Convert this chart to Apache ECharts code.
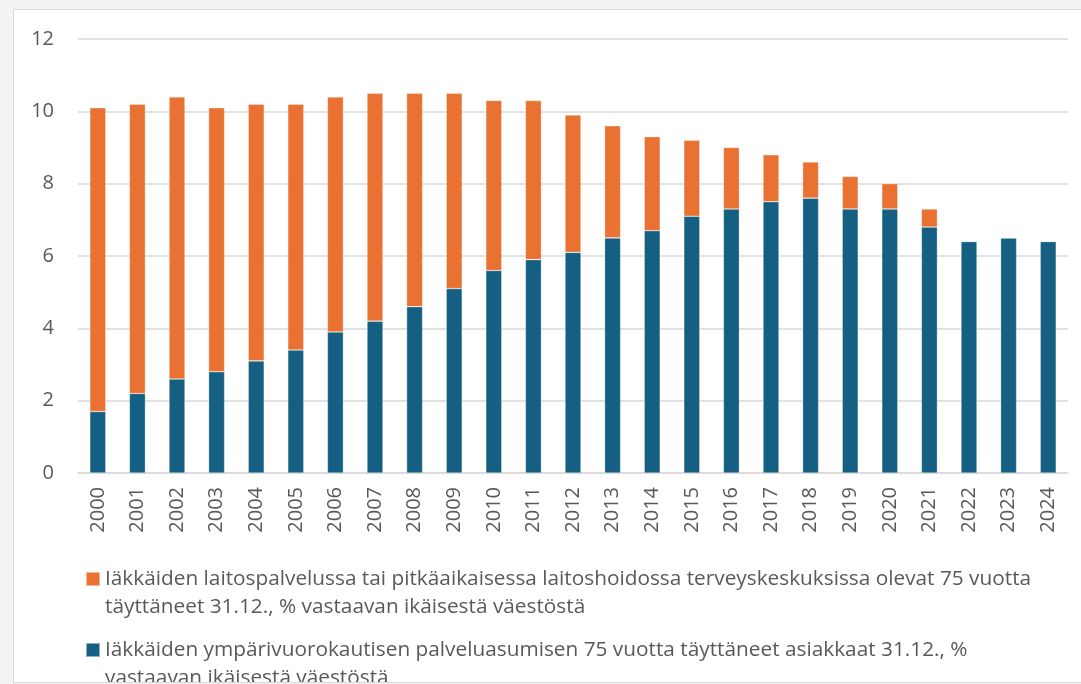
<!DOCTYPE html>
<html>
<head>
<meta charset="utf-8">
<script src="https://cdn.jsdelivr.net/npm/echarts@6/dist/echarts.min.js"></script>
<style>
  html, body { margin: 0; padding: 0; background: #f3f3f3; overflow: hidden; }
  #frame {
    position: absolute; left: 13px; top: 9px;
    width: 1080px; height: 672px; overflow: hidden;
    background: #fff; border: 1.5px solid #d9d9d9;
  }
  #main { width: 1080px; height: 760px; }
</style>
</head>
<body>
<div id="frame"><div id="main"></div></div>
<script>
// vuodet
var years = ['2000', '2001', '2002', '2003', '2004', '2005', '2006', '2007', '2008', '2009',
    '2010', '2011', '2012', '2013', '2014', '2015', '2016', '2017', '2018', '2019',
    '2020', '2021', '2022', '2023', '2024'];

// ympärivuorokautinen palveluasuminen, %
var asumisValues = [1.7, 2.2, 2.6, 2.8, 3.1, 3.4, 3.9, 4.2, 4.6, 5.1,
    5.6, 5.9, 6.1, 6.5, 6.7, 7.1, 7.3, 7.5, 7.6, 7.3,
    7.3, 6.8, 6.4, 6.5, 6.4];

// laitospalvelu / pitkäaikainen laitoshoito, %
var laitosValues = [8.4, 8.0, 7.8, 7.3, 7.1, 6.8, 6.5, 6.3, 5.9, 5.4,
    4.7, 4.4, 3.8, 3.1, 2.6, 2.1, 1.7, 1.3, 1.0, 0.9,
    0.7, 0.5, 0, 0, 0];

var yTicks = [0, 2, 4, 6, 8, 10, 12];

var laitosName = 'Iäkkäiden laitospalvelussa tai pitkäaikaisessa laitoshoidossa terveyskeskuksissa olevat 75 vuotta\ntäyttäneet 31.12., % vastaavan ikäisestä väestöstä';
var asumisName = 'Iäkkäiden ympärivuorokautisen palveluasumisen 75 vuotta täyttäneet asiakkaat 31.12., %\nvastaavan ikäisestä väestöstä';

var textColor = '#595959';
var gridColor = '#d9d9d9';
var font = 'Open Sans';

var chart = echarts.init(document.getElementById('main'));

var option = {
    animation: false,
    grid: { left: 64, right: 26, top: 29, height: 434 },
    legend: {
        orient: 'vertical',
        left: 66,
        top: 522,
        height: 230,
        itemWidth: 14,
        itemHeight: 14,
        itemGap: -13,
        icon: 'rect',
        data: [laitosName, asumisName],
        // tyhjä rivi alkuun, jotta neliö osuu ensimmäisen rivin kohdalle
        formatter: function (name) { return '\n' + name; },
        textStyle: { color: textColor, fontSize: 20.8, fontFamily: font, lineHeight: 28 }
    },
    xAxis: {
        type: 'category',
        data: years,
        axisLine: { lineStyle: { color: gridColor, width: 1.5 } },
        axisTick: { show: false },
        axisLabel: {
            rotate: 90, interval: 0, margin: 14,
            color: textColor, fontSize: 20, fontFamily: font
        }
    },
    yAxis: {
        type: 'value',
        min: yTicks[0],
        max: yTicks[yTicks.length - 1],
        interval: 2,
        axisLine: { show: false },
        axisTick: { show: false },
        splitLine: { lineStyle: { color: gridColor, width: 1.5 } },
        axisLabel: { margin: 24, color: textColor, fontSize: 20, fontFamily: font }
    },
    series: [
        {
            name: asumisName,
            type: 'bar',
            stack: 'yht',
            barWidth: 16,
            data: asumisValues,
            itemStyle: { color: '#156082', borderColor: 'rgba(255,255,255,0.5)', borderWidth: 0.6 }
        },
        {
            name: laitosName,
            type: 'bar',
            stack: 'yht',
            barWidth: 16,
            data: laitosValues,
            itemStyle: { color: '#E97132', borderColor: 'rgba(255,255,255,0.5)', borderWidth: 0.6 }
        }
    ]
};

chart.setOption(option);
</script>
</body>
</html>
